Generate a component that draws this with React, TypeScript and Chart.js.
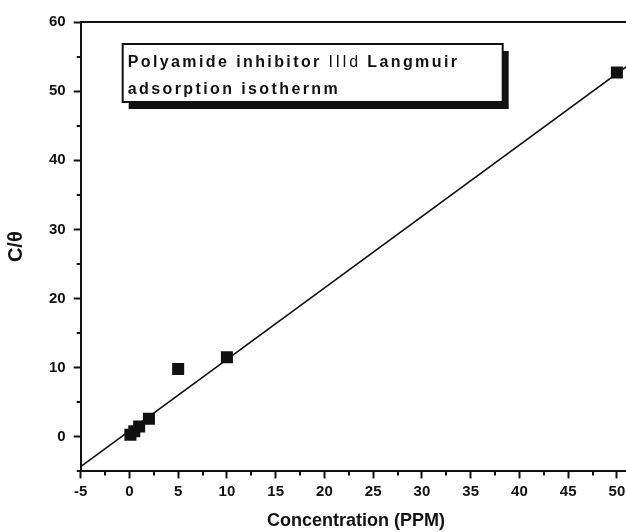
import React, { useEffect, useRef } from "react";
import { Chart, registerables } from "chart.js";

Chart.register(...registerables);

// Measured points: concentration (ppm) vs C/θ
const concentration = [0.1, 0.5, 1, 2, 5, 10, 50];
const cOverTheta = [0.3, 0.8, 1.5, 2.6, 9.8, 11.5, 52.7];

// Langmuir linear fit, given by its two end points
const fitX = [-5, 52];
const fitY = [-4.3, 54.6];

const xTickValues = [-5, 0, 5, 10, 15, 20, 25, 30, 35, 40, 45, 50];
const yTickValues = [0, 10, 20, 30, 40, 50, 60];
const xMinorTicks = [-2.5, 2.5, 7.5, 12.5, 17.5, 22.5, 27.5, 32.5, 37.5, 42.5, 47.5];
const yMinorTicks = [-5, 5, 15, 25, 35, 45, 55];

const noteLine1 = [
  { text: "Polyamide inhibitor ", bold: true },
  { text: "IIId", bold: false },
  { text: " Langmuir", bold: true },
];
const noteLine2 = "adsorption isothernm";

const INK = "#111111";
const FONT = "'Liberation Sans', Arial, sans-serif";

const framePlugin = {
  id: "frameAndNote",
  afterDraw(chart: any) {
    const { ctx, chartArea } = chart;
    const xs = chart.scales.x;
    const ys = chart.scales.y;
    ctx.save();
    ctx.strokeStyle = INK;

    // top frame line
    ctx.lineWidth = 2;
    ctx.beginPath();
    ctx.moveTo(chartArea.left, chartArea.top);
    ctx.lineTo(chart.width, chartArea.top);
    ctx.stroke();

    // minor ticks
    ctx.lineWidth = 2;
    ctx.beginPath();
    for (const v of xMinorTicks) {
      const px = Math.round(xs.getPixelForValue(v));
      ctx.moveTo(px, chartArea.bottom);
      ctx.lineTo(px, chartArea.bottom + 4);
    }
    for (const v of yMinorTicks) {
      const py = Math.round(ys.getPixelForValue(v));
      ctx.moveTo(chartArea.left, py);
      ctx.lineTo(chartArea.left - 4, py);
    }
    ctx.stroke();

    // annotation box with drop shadow
    const bx = chartArea.left + 42;
    const by = chartArea.top + 22;
    const bw = 380;
    const bh = 58;
    ctx.fillStyle = INK;
    ctx.fillRect(bx + 6, by + 7, bw, bh);
    ctx.fillStyle = "#ffffff";
    ctx.fillRect(bx, by, bw, bh);
    ctx.lineWidth = 2;
    ctx.strokeRect(bx, by, bw, bh);

    ctx.fillStyle = INK;
    ctx.textBaseline = "alphabetic";
    (ctx as any).letterSpacing = "2.4px";
    let tx = bx + 5;
    for (const seg of noteLine1) {
      ctx.font = `${seg.bold ? "bold " : ""}16px ${FONT}`;
      ctx.fillText(seg.text, tx, by + 23);
      tx += ctx.measureText(seg.text).width;
    }
    ctx.font = `bold 16px ${FONT}`;
    ctx.fillText(noteLine2, bx + 5, by + 50);
    ctx.restore();
  },
};

export default function App() {
  const canvasRef = useRef<HTMLCanvasElement | null>(null);

  useEffect(() => {
    if (!canvasRef.current) return;
    const chart = new Chart(canvasRef.current, {
      type: "scatter",
      data: {
        datasets: [
          {
            type: "line",
            data: fitX.map((x, i) => ({ x, y: fitY[i] })),
            borderColor: INK,
            borderWidth: 1.6,
            pointRadius: 0,
            fill: false,
          } as any,
          {
            data: concentration.map((x, i) => ({ x, y: cOverTheta[i] })),
            pointStyle: "rect",
            pointRadius: 8.5,
            backgroundColor: INK,
            borderColor: INK,
            borderWidth: 0,
          },
        ],
      },
      options: {
        responsive: false,
        animation: false,
        layout: { padding: { top: 22, right: 0, left: 4, bottom: 0 } },
        plugins: {
          legend: { display: false },
          tooltip: { enabled: false },
        },
        scales: {
          x: {
            type: "linear",
            min: -5,
            max: 51.5,
            afterBuildTicks: (scale: any) => {
              scale.ticks = xTickValues.map((v) => ({ value: v }));
            },
            grid: {
              drawOnChartArea: false,
              tickLength: 7,
              tickWidth: 2,
              tickColor: INK,
            },
            border: { width: 2, color: INK },
            ticks: {
              color: INK,
              padding: 4,
              maxRotation: 0,
              font: { family: FONT, size: 15, weight: "bold" },
            },
            title: {
              display: true,
              text: "Concentration (PPM)",
              color: INK,
              font: { family: FONT, size: 18, weight: "bold" },
              padding: { top: 6, bottom: 0 },
            },
          },
          y: {
            type: "linear",
            min: -5,
            max: 60,
            afterBuildTicks: (scale: any) => {
              scale.ticks = yTickValues.map((v) => ({ value: v }));
            },
            grid: {
              drawOnChartArea: false,
              tickLength: 7,
              tickWidth: 2,
              tickColor: INK,
            },
            border: { width: 2, color: INK },
            ticks: {
              color: INK,
              padding: 8,
              font: { family: FONT, size: 15, weight: "bold" },
            },
            title: {
              display: true,
              text: "C/θ",
              color: INK,
              font: { family: FONT, size: 20, weight: "bold" },
              padding: { top: 0, bottom: 13 },
            },
          },
        },
      },
      plugins: [framePlugin],
    });
    return () => chart.destroy();
  }, []);

  return (
    <div
      style={{
        position: "absolute",
        left: 0,
        top: 0,
        width: 626,
        height: 532,
        overflow: "hidden",
        background: "#fff",
      }}
    >
      <canvas ref={canvasRef} width={640} height={532} />
    </div>
  );
}
